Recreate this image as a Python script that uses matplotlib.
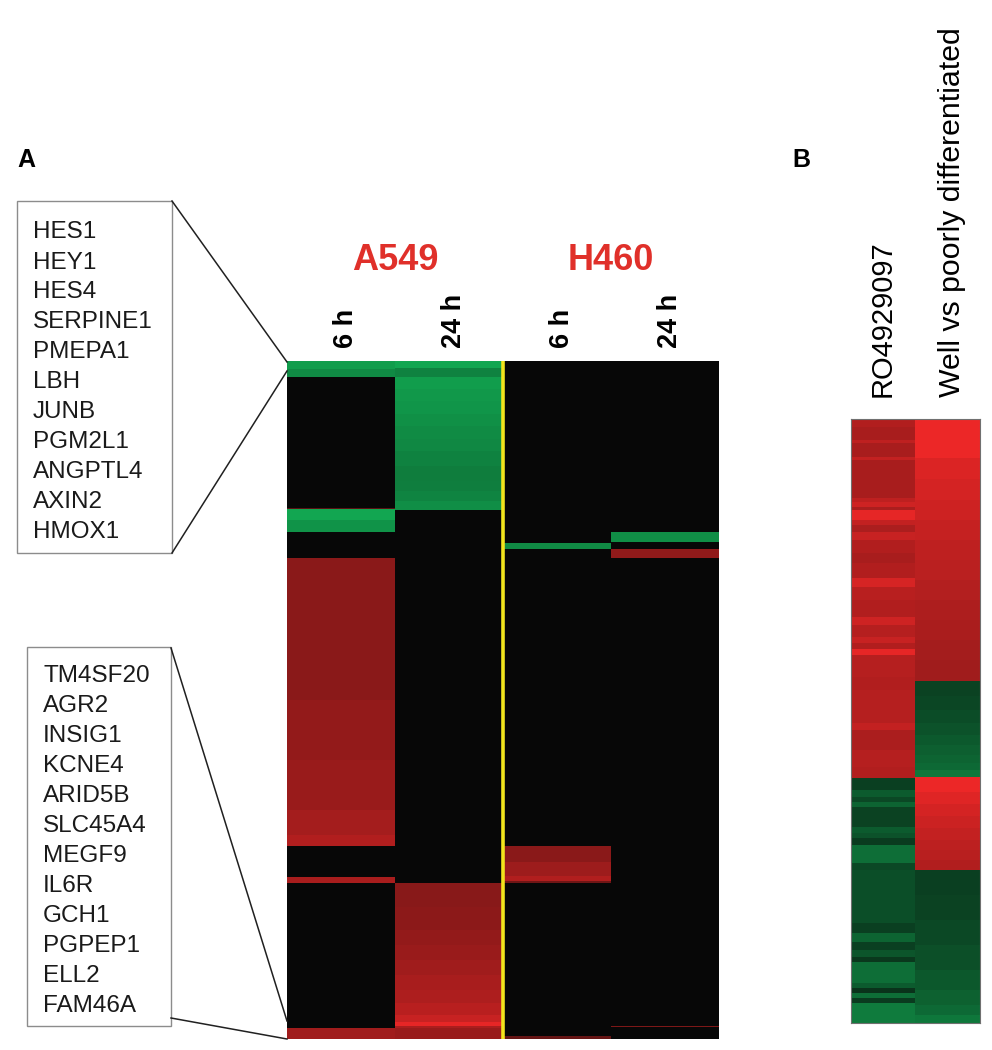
import numpy as np
import matplotlib.pyplot as plt
from matplotlib.colors import LinearSegmentedColormap
from matplotlib.patches import Rectangle
from matplotlib.lines import Line2D

plt.rcParams['font.family'] = ['Liberation Sans', 'DejaVu Sans']

W, H = 992, 1050

# ---- panel A: blocks of (n rows, log ratio), top to bottom
a549_6h = [(8, -0.8), (8, -0.7), (131, 0), (1, 0.35), (11, -0.85), (12, -0.75), (26, 0),
           (142, 0.56), (60, 0.6), (50, 0.62), (25, 0.67), (11, 0.72), (31, 0),
           (6, 0.68), (145, 0), (11, 0.65)]
a549_24h = [(7, -0.85), (9, -0.66), (12, -0.8), (12, -0.78), (13, -0.76), (12, -0.73),
            (13, -0.71), (12, -0.69), (15, -0.66), (15, -0.63), (10, -0.64), (10, -0.67),
            (9, -0.72), (373, 0), (24, 0.55), (23, 0.57), (15, 0.6), (15, 0.62), (15, 0.65),
            (15, 0.68), (13, 0.71), (12, 0.75), (7, 0.82), (4, 0.95), (2, 0.7), (11, 0.62)]
h460_6h = [(182, 0), (6, -0.7), (297, 0), (16, 0.56), (14, 0.64), (5, 0.72), (2, 0.45),
           (153, 0), (3, 0.4)]
h460_24h = [(171, 0), (10, -0.72), (7, 0), (9, 0.58), (468, 0), (1, 0.5), (12, 0)]

time_labels = ['6 h', '24 h', '6 h', '24 h']
cell_lines = ['A549', 'H460']

genes_up = ['HES1', 'HEY1', 'HES4', 'SERPINE1', 'PMEPA1', 'LBH', 'JUNB', 'PGM2L1',
            'ANGPTL4', 'AXIN2', 'HMOX1']
genes_down = ['TM4SF20', 'AGR2', 'INSIG1', 'KCNE4', 'ARID5B', 'SLC45A4', 'MEGF9', 'IL6R',
              'GCH1', 'PGPEP1', 'ELL2', 'FAM46A']

# ---- panel B
ro4929097 = [(8, 0.72), (13, 0.68), (3, 0.78), (14, 0.68), (3, 0.8), (38, 0.68), (4, 0.78),
             (5, 0.85), (3, 0.7), (10, 0.95), (5, 0.8), (7, 0.7), (8, 0.82), (13, 0.72),
             (10, 0.68), (15, 0.72), (9, 0.88), (13, 0.75), (17, 0.72), (8, 0.85), (12, 0.74),
             (6, 0.82), (6, 0.72), (6, 0.95), (22, 0.74), (13, 0.72), (33, 0.74), (7, 0.8),
             (20, 0.7), (17, 0.74), (11, 0.72),
             (12, -0.3), (7, -0.45), (5, -0.35), (5, -0.5), (20, -0.32), (6, -0.45),
             (5, -0.4), (7, -0.28), (18, -0.55), (7, -0.35), (53, -0.38), (10, -0.3),
             (9, -0.5), (8, -0.3), (7, -0.42), (5, -0.26), (21, -0.55), (5, -0.45),
             (5, -0.24), (5, -0.55), (5, -0.28), (20, -0.62)]
well_vs_poor = [(39, 0.97), (21, 0.9), (21, 0.87), (20, 0.84), (20, 0.81), (20, 0.78),
                (20, 0.76), (20, 0.73), (20, 0.71), (20, 0.69), (20, 0.67), (21, 0.65),
                (15, -0.32), (14, -0.34), (13, -0.37), (12, -0.4), (10, -0.44), (10, -0.47),
                (8, -0.5), (7, -0.53), (7, -0.6),
                (15, 0.97), (12, 0.92), (12, 0.87), (12, 0.83), (12, 0.8), (10, 0.77),
                (10, 0.75), (10, 0.72),
                (25, -0.3), (25, -0.32), (25, -0.35), (25, -0.39), (20, -0.43), (15, -0.48),
                (10, -0.53), (8, -0.6)]
b_labels = ['RO4929097', 'Well vs poorly differentiated']


def expand(blocks):
    return np.concatenate([np.full(n, v, dtype=float) for n, v in blocks])


cmap = LinearSegmentedColormap.from_list('grn_blk_red', ['#14c25e', '#070707', '#f22828'])
red_txt = '#e0302a'

fig = plt.figure(figsize=(W / 100, H / 100), dpi=100)


def fx(x):
    return x / W


def fy(y):
    return 1 - y / H


# heatmap A
axA = fig.add_axes([fx(287), fy(1039), (719 - 287) / W, (1039 - 361) / H])
matA = np.column_stack([expand(c) for c in (a549_6h, a549_24h, h460_6h, h460_24h)])
axA.imshow(matA, cmap=cmap, vmin=-1, vmax=1, aspect='auto', interpolation='nearest')
axA.axvline(1.5, color='#f2e41c', lw=2.6)
axA.set_xticks([])
axA.set_yticks([])
for s in axA.spines.values():
    s.set_visible(False)
axA.set_ylim(matA.shape[0] - 0.5, -0.5)

for i, lab in enumerate(time_labels):
    axA.text(i + 0.05, -14, lab, rotation=90, ha='center', va='bottom',
             fontsize=19.5, fontweight='bold', clip_on=False)
for i, lab in enumerate(cell_lines):
    axA.text(0.5 + 2 * i, -91, lab, ha='center', va='baseline', fontsize=26,
             fontweight='bold', color=red_txt, clip_on=False)

fig.text(fx(17), fy(167), 'A', fontsize=18, fontweight='bold', va='baseline')
fig.text(fx(792), fy(167), 'B', fontsize=18, fontweight='bold', va='baseline')

# gene boxes
box_col = '#8c8c8c'
fig.add_artist(Rectangle((fx(17), fy(553)), (172 - 17) / W, (553 - 201) / H,
                         transform=fig.transFigure, fill=False, ec=box_col, lw=1))
fig.add_artist(Rectangle((fx(27), fy(1026)), (171 - 27) / W, (1026 - 647) / H,
                         transform=fig.transFigure, fill=False, ec=box_col, lw=1))
for (x0, y0, x1, y1) in [(172, 201, 287, 362), (172, 553, 287, 371),
                         (171, 648, 287, 1021), (171, 1018, 287, 1039)]:
    fig.add_artist(Line2D([fx(x0), fx(x1)], [fy(y0), fy(y1)], transform=fig.transFigure,
                          color='#202020', lw=1.1))

for k, g in enumerate(genes_up):
    fig.text(fx(33), fy(238.5 + 30 * k), g, fontsize=17.5, va='baseline', color='#1a1a1a')
for k, g in enumerate(genes_down):
    fig.text(fx(43), fy(682 + 30 * k), g, fontsize=17.5, va='baseline', color='#1a1a1a')

# heatmap B
axB = fig.add_axes([fx(851), fy(1023), (980 - 851) / W, (1023 - 419) / H])
matB = np.column_stack([expand(ro4929097), expand(well_vs_poor)])
axB.imshow(matB, cmap=cmap, vmin=-1, vmax=1, aspect='auto', interpolation='nearest')
axB.set_xticks([])
axB.set_yticks([])
for s in axB.spines.values():
    s.set_color('#707070')
    s.set_linewidth(0.8)

fig.text(fx(883), fy(397), b_labels[0], rotation=90, ha='center', va='bottom', fontsize=21)
fig.text(fx(952), fy(397), b_labels[1], rotation=90, ha='center', va='bottom', fontsize=21.8)

fig.savefig('out.png', dpi=100)
